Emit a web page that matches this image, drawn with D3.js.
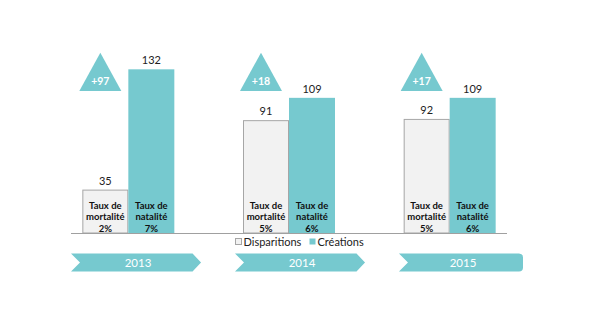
<!DOCTYPE html>
<html>
<head>
<meta charset="utf-8">
<script src="https://cdn.jsdelivr.net/npm/d3@7"></script>
<style>
  html, body { margin: 0; padding: 0; background: #fff; }
  svg { display: block; font-family: Lato, "Open Sans", sans-serif; }
</style>
</head>
<body>
<svg id="chart" width="600" height="335"></svg>
<script>
// Entreprises : disparitions et créations par année
const years = ["2013", "2014", "2015"];
const disparitions = [35, 91, 92];
const creations = [132, 109, 109];
const tauxMortalite = ["2%", "5%", "5%"];
const tauxNatalite = ["7%", "6%", "6%"];
const seriesNames = ["Disparitions", "Créations"];

const teal = "#76C9CF";
const grey = "#F2F2F2";
const greyStroke = "#A6A6A6";

const svg = d3.select("#chart");

// Scales
const x0 = d3.scaleBand().domain(years).range([48, 530])
  .paddingInner(0.4274).paddingOuter(0.2137);
const x1 = d3.scaleBand().domain(seriesNames).range([0, x0.bandwidth()]);
const y = d3.scaleLinear().domain([0, 140]).range([233, 59.4]);
const xTimeline = d3.scaleBand().domain(years).range([71, 529]).paddingInner(0.207);

const rows = years.map((yr, i) => ({
  year: yr,
  i: i,
  values: [
    { key: "Disparitions", value: disparitions[i], lines: ["Taux de", "mortalité", tauxMortalite[i]] },
    { key: "Créations", value: creations[i], lines: ["Taux de", "natalité", tauxNatalite[i]] }
  ],
  delta: creations[i] - disparitions[i]
}));

// Bars
const groups = svg.selectAll("g.group").data(rows).join("g")
  .attr("class", "group")
  .attr("transform", d => `translate(${x0(d.year)},0)`);

const bars = groups.selectAll("g.bar").data(d => d.values).join("g").attr("class", "bar");

bars.append("rect")
  .attr("x", d => x1(d.key) + (d.key === "Disparitions" ? 0.5 : 0))
  .attr("y", d => y(d.value) + (d.key === "Disparitions" ? 0.5 : 0))
  .attr("width", d => x1.bandwidth() - (d.key === "Disparitions" ? 1 : 0))
  .attr("height", d => y(0) - y(d.value) - (d.key === "Disparitions" ? 0.5 : 0))
  .attr("fill", d => d.key === "Disparitions" ? grey : teal)
  .attr("stroke", d => d.key === "Disparitions" ? greyStroke : "none")
  .attr("stroke-width", 1);

// Value labels above bars
bars.append("text")
  .attr("x", d => x1(d.key) + x1.bandwidth() / 2)
  .attr("y", d => y(d.value) - 5)
  .attr("text-anchor", "middle")
  .attr("font-size", 11)
  .attr("fill", "#222")
  .text(d => d.value);

// Rate labels inside bars
bars.each(function (d) {
  const g = d3.select(this);
  d.lines.forEach((ln, k) => {
    g.append("text")
      .attr("x", x1(d.key) + x1.bandwidth() / 2)
      .attr("y", 208.5 + k * 11.5)
      .attr("text-anchor", "middle")
      .attr("font-size", 9.5)
      .attr("font-weight", "bold")
      .attr("fill", "#111")
      .text(ln);
  });
});

// Baseline
svg.append("line")
  .attr("x1", 71).attr("x2", 507)
  .attr("y1", y(0) + 0.5).attr("y2", y(0) + 0.5)
  .attr("stroke", "#A0A0A0").attr("stroke-width", 1);

// Difference triangles
const triW = 42, triTop = 52.7, triBase = 91;
groups.append("path")
  .attr("d", () => {
    const cx = 18;
    return `M${cx},${triTop} L${cx + triW / 2},${triBase} L${cx - triW / 2},${triBase} Z`;
  })
  .attr("fill", teal);

groups.append("text")
  .attr("x", 18)
  .attr("y", 84.5)
  .attr("text-anchor", "middle")
  .attr("font-size", 10.5)
  .attr("font-weight", "bold")
  .attr("fill", "#fff")
  .text(d => "+" + d.delta);

// Legend
const legend = svg.append("g").attr("transform", "translate(235,242)");
const legItems = [
  { name: "Disparitions", fill: grey, stroke: greyStroke, x: 0 },
  { name: "Créations", fill: teal, stroke: "none", x: 74 }
];
legItems.forEach(it => {
  legend.append("rect")
    .attr("x", it.x + 0.5).attr("y", -3.5)
    .attr("width", 6).attr("height", 6)
    .attr("fill", it.fill).attr("stroke", it.stroke);
  legend.append("text")
    .attr("x", it.x + 8.5).attr("y", 4)
    .attr("font-size", 11)
    .attr("fill", "#222")
    .text(it.name);
});

// Year timeline chevrons
const chTop = 253.5, chBot = 271.5, notch = 9, tip = 8.5;
const chevrons = svg.selectAll("g.chev").data(years).join("g").attr("class", "chev");
chevrons.append("path")
  .attr("d", (d, i) => {
    const x = xTimeline(d), w = xTimeline.bandwidth();
    const mid = (chTop + chBot) / 2;
    if (i === years.length - 1) {
      const r = 4, xr = x + w - 6;
      return `M${x},${chTop} L${xr - r},${chTop} Q${xr},${chTop} ${xr},${chTop + r} ` +
             `L${xr},${chBot - r} Q${xr},${chBot} ${xr - r},${chBot} L${x},${chBot} L${x + notch},${mid} Z`;
    }
    return `M${x},${chTop} L${x + w - tip},${chTop} L${x + w},${mid} L${x + w - tip},${chBot} ` +
           `L${x},${chBot} L${x + notch},${mid} Z`;
  })
  .attr("fill", teal);
chevrons.append("text")
  .attr("x", (d, i) => xTimeline(d) + (i === years.length - 1 ? xTimeline.bandwidth() - 6 : xTimeline.bandwidth()) / 2 + 2)
  .attr("y", 266.5)
  .attr("text-anchor", "middle")
  .attr("font-size", 11.5)
  .attr("fill", "#fff")
  .text(d => d);
</script>
</body>
</html>
